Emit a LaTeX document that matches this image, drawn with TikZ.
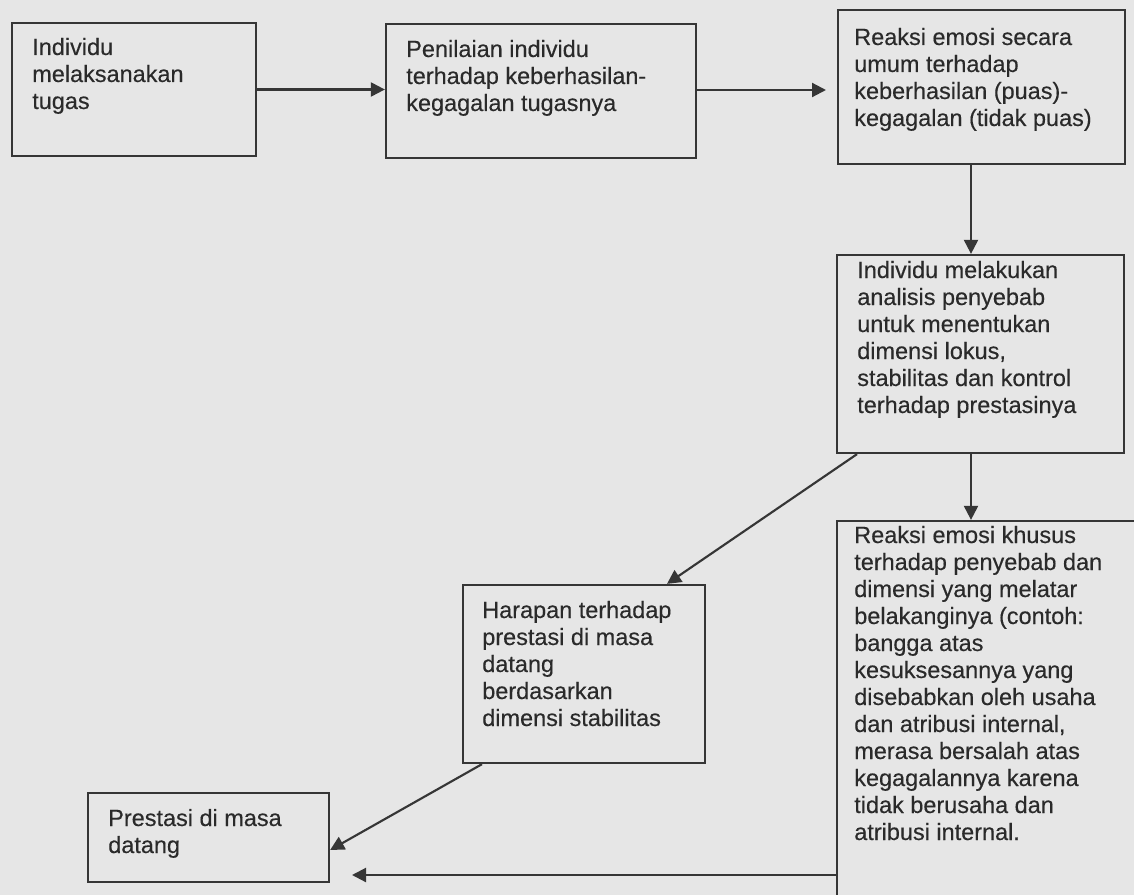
\documentclass[tikz,border=0pt]{standalone}
\usepackage{fontspec}
\setmainfont[FakeBold=0.3]{Liberation Sans}
\usetikzlibrary{arrows.meta}
\definecolor{paper}{HTML}{E6E6E6}
\definecolor{ink}{HTML}{2A2A2A}
\definecolor{edge}{HTML}{363636}
% box from (x1,y1) to (x2,y2) in pixel coordinates
\newcommand{\boxnode}[5]{\node[box, minimum width={(#4-#2)*0.75pt}, minimum height={(#5-#3)*0.75pt}] (#1) at ({(#2+#4)/2},{(#3+#5)/2}) {};}
% text block: first baseline at (x,y)
\newcommand{\txtnode}[4]{\node[txt] (#1) at (#2,#3) {\parbox[t]{300pt}{\raggedright #4}};}
\begin{document}
\begin{tikzpicture}[x=0.75pt,y=-0.75pt,
  box/.style={draw=edge, line width=1.7pt, rectangle, inner sep=0pt},
  txt/.style={anchor=base west, inner sep=0pt, text=ink, font=\fontsize{17.6pt}{20.25pt}\selectfont},
  arr/.style={draw=edge, line width=1.6pt, -{Triangle[length=10.5pt,width=10.5pt]}}]
\useasboundingbox (0,0) rectangle (1134,895);
\clip (0,0) rectangle (1134,895);
\fill[paper] (0,0) rectangle (1134,895);

% boxes
\boxnode{b1}{12}{23}{256}{156}
\boxnode{b2}{386}{24}{696}{158}
\boxnode{b3}{838}{10}{1125}{164}
\boxnode{b4}{837}{255}{1124}{453}
\boxnode{b5}{463}{585}{705}{763}
\boxnode{b6}{837}{521}{1170}{930}
\boxnode{b7}{88}{793}{329}{882}

% texts
\txtnode{t1}{32}{55}{Individu\\melaksanakan\\tugas}
\txtnode{t2}{406}{57}{Penilaian individu\\terhadap keberhasilan-\\kegagalan tugasnya}
\txtnode{t3}{854}{45}{Reaksi emosi secara\\umum terhadap\\keberhasilan (puas)-\\kegagalan (tidak puas)}
\txtnode{t4}{857}{278}{Individu melakukan\\analisis penyebab\\untuk menentukan\\dimensi lokus,\\stabilitas dan kontrol\\terhadap prestasinya}
\txtnode{t5}{482}{618}{Harapan terhadap\\prestasi di masa\\datang\\berdasarkan\\dimensi stabilitas}
\txtnode{t6}{854}{543}{Reaksi emosi khusus\\terhadap penyebab dan\\dimensi yang melatar\\belakanginya (contoh:\\bangga atas\\kesuksesannya yang\\disebabkan oleh usaha\\dan atribusi internal,\\merasa bersalah atas\\kegagalannya karena\\tidak berusaha dan\\atribusi internal.}
\txtnode{t7}{108}{826}{Prestasi di masa\\datang}

% helper coordinates
\coordinate (e23) at (826,90);
\coordinate (v34) at (971,0);
\coordinate (d45s) at (857,0);
\coordinate (d45e) at (667,0);
\coordinate (d57s) at (482,0);
\coordinate (e57) at (330,850);
\coordinate (e67) at (352,875);

% connectors
\draw[arr] (b1.east) -- (b1.east -| b2.west);
\draw[arr] (b2.east |- e23) -- (e23);
\draw[arr] (b3.south -| v34) -- (b4.north -| v34);
\draw[arr] (b4.south -| v34) -- (b6.north -| v34);
\draw[arr] (b4.south -| d45s) -- (b5.north -| d45e);
\draw[arr] (b5.south -| d57s) -- (b7.east |- e57);
\draw[arr] (e67 -| b6.west) -- (e67);
\end{tikzpicture}
\end{document}
